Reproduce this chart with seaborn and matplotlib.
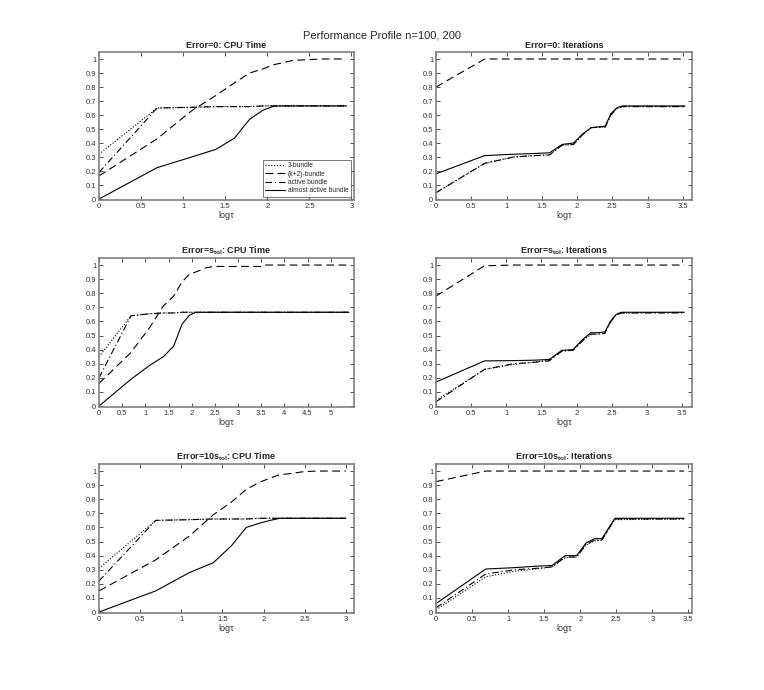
import numpy as np
import pandas as pd
import matplotlib
matplotlib.use('Agg')
import matplotlib.pyplot as plt
import seaborn as sns

# ============================================
# DATA
# ============================================

solvers = ['3-bundle', '(k+2)-bundle', 'active bundle', 'almost active bundle']

# Error=0: CPU Time
cpu0_tau    = [0, 0.69, 1.10, 1.39, 1.61, 1.79, 1.95, 2.08, 2.20, 2.30, 2.48, 2.64, 2.94]
cpu0_three  = [0.32, 0.65, 0.655, 0.66, 0.66, 0.66, 0.665, 0.665, 0.665, 0.665, 0.665, 0.665, 0.665]
cpu0_k2     = [0.165, 0.43, 0.63, 0.74, 0.83, 0.90, 0.93, 0.96, 0.975, 0.99, 0.995, 1.0, 1.0]
cpu0_active = [0.19, 0.65, 0.655, 0.66, 0.66, 0.66, 0.665, 0.665, 0.665, 0.665, 0.665, 0.665, 0.665]
cpu0_almost = [0.0, 0.224, 0.30, 0.355, 0.435, 0.57, 0.635, 0.664, 0.665, 0.665, 0.665, 0.665, 0.665]

# Error=0: Iterations
it0_tau    = [0, 0.69, 1.10, 1.39, 1.61, 1.79, 1.95, 2.08, 2.20, 2.30, 2.40, 2.48, 2.56, 2.64, 3.53]
it0_three  = [0.045, 0.255, 0.30, 0.31, 0.315, 0.385, 0.39, 0.46, 0.51, 0.512, 0.515, 0.60, 0.645, 0.66, 0.66]
it0_k2     = [0.80, 1.0, 1.0, 1.0, 1.0, 1.0, 1.0, 1.0, 1.0, 1.0, 1.0, 1.0, 1.0, 1.0, 1.0]
it0_active = [0.045, 0.255, 0.30, 0.31, 0.315, 0.385, 0.39, 0.46, 0.51, 0.512, 0.515, 0.60, 0.645, 0.66, 0.66]
it0_almost = [0.18, 0.31, 0.32, 0.325, 0.33, 0.39, 0.40, 0.465, 0.51, 0.515, 0.52, 0.61, 0.65, 0.665, 0.665]

# Error=s_tol: CPU Time
cpus_tau    = [0, 0.69, 1.10, 1.39, 1.61, 1.79, 1.95, 2.08, 2.20, 2.30, 2.48, 3.50, 3.58, 5.39]
cpus_three  = [0.35, 0.64, 0.655, 0.66, 0.66, 0.665, 0.665, 0.665, 0.665, 0.665, 0.665, 0.665, 0.665, 0.665]
cpus_k2     = [0.16, 0.38, 0.56, 0.71, 0.78, 0.88, 0.935, 0.95, 0.965, 0.98, 0.99, 0.99, 1.0, 1.0]
cpus_active = [0.20, 0.64, 0.655, 0.66, 0.66, 0.665, 0.665, 0.665, 0.665, 0.665, 0.665, 0.665, 0.665, 0.665]
cpus_almost = [0.0, 0.19, 0.29, 0.35, 0.425, 0.58, 0.645, 0.663, 0.665, 0.665, 0.665, 0.665, 0.665, 0.665]

# Error=s_tol: Iterations
its_tau    = [0, 0.69, 1.10, 1.39, 1.61, 1.79, 1.95, 2.08, 2.20, 2.30, 2.40, 2.48, 2.56, 2.64, 3.53]
its_three  = [0.04, 0.26, 0.295, 0.31, 0.325, 0.39, 0.395, 0.465, 0.505, 0.51, 0.515, 0.60, 0.645, 0.66, 0.665]
its_k2     = [0.78, 0.995, 1.0, 1.0, 1.0, 1.0, 1.0, 1.0, 1.0, 1.0, 1.0, 1.0, 1.0, 1.0, 1.0]
its_active = [0.03, 0.26, 0.30, 0.31, 0.32, 0.39, 0.395, 0.46, 0.51, 0.51, 0.515, 0.595, 0.645, 0.66, 0.66]
its_almost = [0.17, 0.32, 0.322, 0.325, 0.33, 0.395, 0.40, 0.47, 0.52, 0.52, 0.525, 0.60, 0.65, 0.665, 0.665]

# Error=10s_tol: CPU Time
cpu10_tau    = [0, 0.69, 1.10, 1.39, 1.61, 1.79, 1.95, 2.08, 2.20, 2.30, 2.48, 2.64, 3.0]
cpu10_three  = [0.31, 0.65, 0.655, 0.66, 0.66, 0.66, 0.665, 0.665, 0.665, 0.665, 0.665, 0.665, 0.665]
cpu10_k2     = [0.15, 0.37, 0.54, 0.69, 0.78, 0.87, 0.92, 0.95, 0.975, 0.98, 0.995, 1.0, 1.0]
cpu10_active = [0.22, 0.65, 0.655, 0.66, 0.66, 0.66, 0.665, 0.665, 0.665, 0.665, 0.665, 0.665, 0.665]
cpu10_almost = [0.0, 0.15, 0.28, 0.35, 0.47, 0.60, 0.63, 0.65, 0.665, 0.665, 0.665, 0.665, 0.665]

# Error=10s_tol: Iterations
it10_tau    = [0, 0.69, 1.10, 1.39, 1.61, 1.79, 1.95, 2.08, 2.20, 2.30, 2.48, 3.44]
it10_three  = [0.015, 0.25, 0.29, 0.305, 0.32, 0.385, 0.39, 0.475, 0.505, 0.51, 0.655, 0.66]
it10_k2     = [0.925, 1.0, 1.0, 1.0, 1.0, 1.0, 1.0, 1.0, 1.0, 1.0, 1.0, 1.0]
it10_active = [0.03, 0.27, 0.30, 0.31, 0.32, 0.39, 0.39, 0.48, 0.51, 0.51, 0.66, 0.66]
it10_almost = [0.06, 0.305, 0.315, 0.325, 0.33, 0.40, 0.40, 0.49, 0.52, 0.52, 0.665, 0.665]

titles = ['Error=0: CPU Time', 'Error=0: Iterations',
          r'Error=s$_{\mathbf{tol}}$: CPU Time', r'Error=s$_{\mathbf{tol}}$: Iterations',
          r'Error=10s$_{\mathbf{tol}}$: CPU Time', r'Error=10s$_{\mathbf{tol}}$: Iterations']

panels = [
    (cpu0_tau, [cpu0_three, cpu0_k2, cpu0_active, cpu0_almost]),
    (it0_tau, [it0_three, it0_k2, it0_active, it0_almost]),
    (cpus_tau, [cpus_three, cpus_k2, cpus_active, cpus_almost]),
    (its_tau, [its_three, its_k2, its_active, its_almost]),
    (cpu10_tau, [cpu10_three, cpu10_k2, cpu10_active, cpu10_almost]),
    (it10_tau, [it10_three, it10_k2, it10_active, it10_almost]),
]

xmax_list = [3.03, 3.63, 5.50, 3.64, 3.10, 3.55]
xtick_max = [3.0, 3.5, 5.0, 3.5, 3.0, 3.5]

# ============================================
# STYLE
# ============================================

sns.set_style('ticks')
plt.rcParams['font.family'] = ['Liberation Sans', 'DejaVu Sans']
plt.rcParams['mathtext.fontset'] = 'custom'
plt.rcParams['mathtext.rm'] = 'Liberation Sans'
plt.rcParams['mathtext.bf'] = 'Liberation Sans:bold'
plt.rcParams['mathtext.it'] = 'Liberation Sans:italic'

dashes = {
    '3-bundle': (1, 1.6),
    '(k+2)-bundle': (7, 4),
    'active bundle': (6, 2.5, 1, 2.5),
    'almost active bundle': '',
}

frame_col = '#808080'

# ============================================
# FIGURE
# ============================================

fig = plt.figure(figsize=(7.64, 6.90), dpi=100)

col_x = [99 / 764, 436 / 764]
col_w = [255 / 764, 256 / 764]
row_top = [52, 258, 464]
row_h = [148, 149, 149]

for i, (tau, series) in enumerate(panels):
    r, c = divmod(i, 2)
    y0 = 1 - (row_top[r] + row_h[r]) / 690
    ax = fig.add_axes([col_x[c], y0, col_w[c], row_h[r] / 690])

    df = pd.DataFrame({
        'tau': np.tile(tau, len(solvers)),
        'rho': np.concatenate(series),
        'solver': np.repeat(solvers, len(tau)),
    })
    sns.lineplot(data=df, x='tau', y='rho', style='solver', style_order=solvers,
                 dashes=dashes, color='black', linewidth=0.8, sort=False,
                 estimator=None, ax=ax, legend=(i == 0))

    ax.set_xlim(0, xmax_list[i])
    ax.set_ylim(-0.007, 1.05)
    xt = np.arange(0, xtick_max[i] + 0.01, 0.5)
    ax.set_xticks(xt)
    ax.set_xticklabels(['%g' % v for v in xt])
    yt = np.round(np.arange(0, 1.01, 0.1), 1)
    ax.set_yticks(yt)
    ax.set_yticklabels(['%g' % v for v in yt])
    ax.tick_params(direction='in', top=True, right=True, length=3, width=0.6,
                   labelsize=5.5, colors='#333333', pad=2)
    for sp in ax.spines.values():
        sp.set_visible(True)
        sp.set_color(frame_col)
        sp.set_linewidth(1.2)
    ax.set_xlabel('logτ', fontsize=6.5, color='#333333', labelpad=1)
    ax.set_ylabel('')
    ax.set_title(titles[i], fontsize=6.5, fontweight='bold', pad=3)

    if i == 0:
        leg = ax.legend(loc='lower right', fontsize=4.8, handlelength=3.0,
                        frameon=True, fancybox=False, borderpad=0.35,
                        labelspacing=0.2, handletextpad=0.4, borderaxespad=0.5)
        leg.get_frame().set_edgecolor('#555555')
        leg.get_frame().set_linewidth(0.7)

fig.text(0.5, 1 - 36 / 690, 'Performance Profile n=100, 200', ha='center',
         va='center', fontsize=8)

plt.savefig('out.png', dpi=100)
